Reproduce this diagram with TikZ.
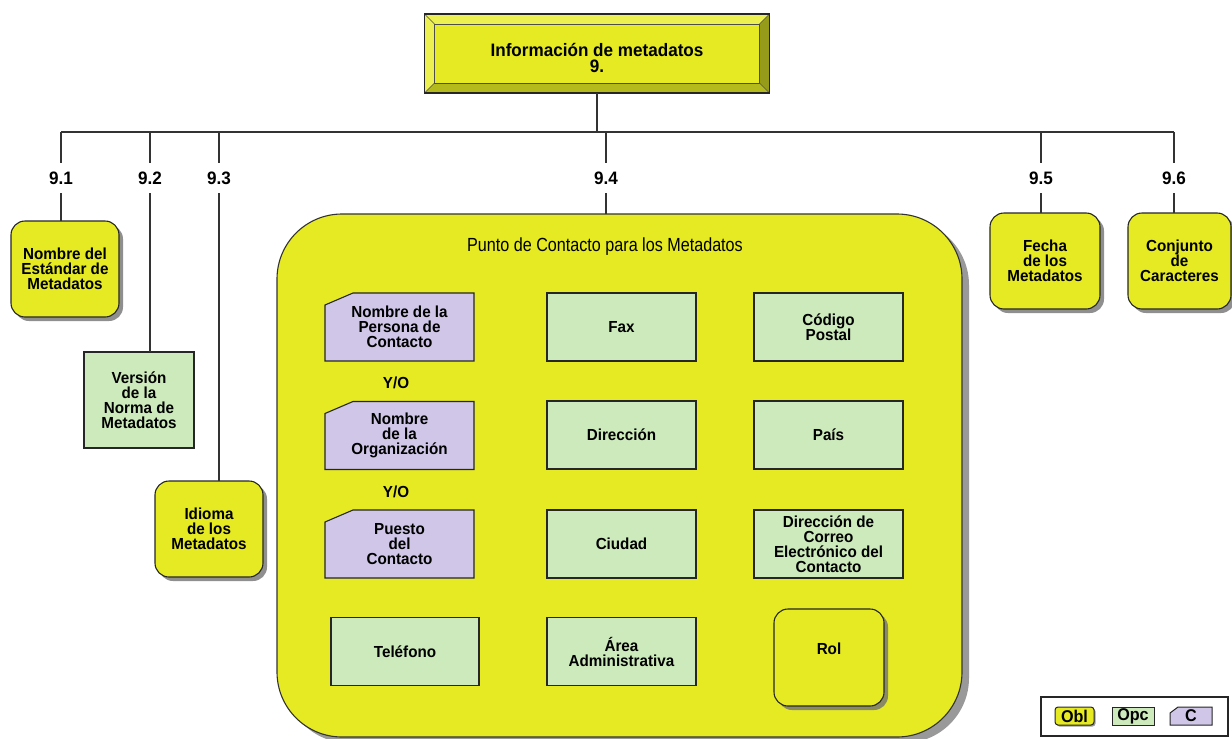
\documentclass[tikz,border=0pt]{standalone}
\usepackage{fontspec}
\setmainfont{Liberation Sans}[FakeStretch=0.95]
\newfontfamily\narrowfont{Liberation Sans}[FakeStretch=0.85]
\usetikzlibrary{shadows}
\pgfdeclarelayer{back}\pgfdeclarelayer{mid}
\pgfsetlayers{back,mid,main}
\definecolor{yel}{RGB}{229,234,35}
\definecolor{grn}{RGB}{204,234,187}
\definecolor{pur}{RGB}{207,198,232}
\definecolor{bevlight}{RGB}{236,240,80}
\definecolor{bevright}{RGB}{150,156,25}
\definecolor{bevbottom}{RGB}{180,186,28}
\newcommand\chamferbox[3]{%
  \filldraw[fill=pur, draw=black!85, line width=1.1pt]
    ([yshift=-#3]#1.north west) -- ([xshift=#2]#1.north west) -- (#1.north east)
    -- (#1.south east) -- (#1.south west) -- cycle;}
\tikzset{
  base/.style={inner sep=0pt, outer sep=0pt, align=center,
    font=\bfseries\fontsize{16}{15}\selectfont, line width=1.1pt},
  oblbox/.style={base, draw=black!85, fill=yel, rounded corners=14pt,
    drop shadow={shadow xshift=4pt, shadow yshift=-4pt, fill=black!55, opacity=.8},
    minimum width=108pt, minimum height=96pt},
  opcbox/.style={base, draw=black!85, fill=grn, minimum width=149pt, minimum height=68pt},
  cbox/.style={base, minimum width=149pt, minimum height=68pt},
  lbl/.style={base, font=\bfseries\fontsize{18}{18}\selectfont, minimum height=30pt},
  yo/.style={base},
  conn/.style={line width=1.3pt, draw=black!80}
}
\begin{document}
\begin{tikzpicture}[x=1pt, y=-1pt]
\useasboundingbox (0,0) rectangle (1232,739);

% top box
\node[base, minimum width=345pt, minimum height=79pt] (top) at (597,53.5) {};
\begin{pgfonlayer}{back}
  \fill[yel] (top.north west) rectangle (top.south east);
  \fill[bevlight] (top.north west) -- (top.north east) -- ([shift={(-10pt,-10pt)}]top.north east)
     -- ([shift={(10pt,-10pt)}]top.north west) -- cycle;
  \fill[bevlight] (top.north west) -- ([shift={(10pt,-10pt)}]top.north west)
     -- ([shift={(10pt,10pt)}]top.south west) -- (top.south west) -- cycle;
  \fill[bevright] (top.north east) -- ([shift={(-10pt,-10pt)}]top.north east)
     -- ([shift={(-10pt,10pt)}]top.south east) -- (top.south east) -- cycle;
  \fill[bevbottom] (top.south west) -- ([shift={(10pt,10pt)}]top.south west)
     -- ([shift={(-10pt,10pt)}]top.south east) -- (top.south east) -- cycle;
  \draw[line width=0.8pt, black!70] ([shift={(10pt,-10pt)}]top.north west) rectangle ([shift={(-10pt,10pt)}]top.south east);
  \draw[line width=0.6pt, black!70] (top.north west) -- ([shift={(10pt,-10pt)}]top.north west)
     (top.north east) -- ([shift={(-10pt,-10pt)}]top.north east)
     (top.south west) -- ([shift={(10pt,10pt)}]top.south west)
     (top.south east) -- ([shift={(-10pt,10pt)}]top.south east);
  \draw[line width=1.3pt, black!85] (top.north west) rectangle (top.south east);
\end{pgfonlayer}
\node[base, font=\bfseries\fontsize{18}{16}\selectfont] (toptext) at (597,57.5)
  {Información de metadatos\\9.};

% hub
\coordinate (h1) at (61,132);
\coordinate (h2) at (150,132);
\coordinate (h3) at (219,132);
\coordinate (h4) at (606,132);
\coordinate (h5) at (1041,132);
\coordinate (h6) at (1174,132);
\draw[conn] (top.south) -- (top.south |- h1);
\draw[conn] (h1) -- (h6);

% labels
\node[lbl] (l1) at (61,178) {9.1};
\node[lbl] (l2) at (150,178) {9.2};
\node[lbl] (l3) at (219,178) {9.3};
\node[lbl] (l4) at (606,178) {9.4};
\node[lbl] (l5) at (1041,178) {9.5};
\node[lbl] (l6) at (1174,178) {9.6};
\foreach \i in {1,...,6} { \draw[conn] (h\i) -- (l\i.north); }

% side boxes
\node[oblbox] (b1) at (65,269) {Nombre del\\Estándar de\\Metadatos};
\node[opcbox, minimum width=110pt, minimum height=96pt] (b2) at (139,400) {Versión\\de la\\Norma de\\Metadatos};
\node[oblbox] (b3) at (209,529) {Idioma\\de los\\Metadatos};
\node[oblbox, minimum width=110pt] (b5) at (1045,261) {Fecha\\de los\\Metadatos};
\node[oblbox, minimum width=103pt] (b6) at (1179.5,261) {Conjunto\\de\\Caracteres};

% big box
\begin{pgfonlayer}{back}
\node[base, draw=black!80, fill=yel, rounded corners=65pt,
  drop shadow={shadow xshift=7pt, shadow yshift=-6pt, fill=black!50, opacity=.8},
  minimum width=685pt, minimum height=523pt] (b4) at (619.5,475.5) {};
\end{pgfonlayer}
\node[base, font=\narrowfont\fontsize{19}{19}\selectfont] (t4) at (605,247) {Punto de Contacto para los Metadatos};

\draw[conn] (l1.south) -- (l1.south |- b1.north);
\draw[conn] (l2.south) -- (l2.south |- b2.north);
\draw[conn] (l3.south) -- (l3.south |- b3.north);
\draw[conn] (l4.south) -- (l4.south |- b4.north);
\draw[conn] (l5.south) -- (l5.south |- b5.north);
\draw[conn] (l6.south) -- (l6.south |- b6.north);

% inner column 1 (conditional)
\node[cbox] (c11) at (399.5,327) {Nombre de la\\Persona de\\Contacto};
\node[yo] (yo1) at (396,383) {Y/O};
\node[cbox] (c12) at (399.5,435.5) {Nombre\\de la\\Organización};
\node[yo] (yo2) at (396,492) {Y/O};
\node[cbox] (c13) at (399.5,544) {Puesto\\del\\Contacto};
\begin{pgfonlayer}{mid}
  \chamferbox{c11}{28pt}{12pt}
  \chamferbox{c12}{28pt}{12pt}
  \chamferbox{c13}{28pt}{12pt}
\end{pgfonlayer}

% column 2
\node[opcbox] (c21) at (621.5,327) {Fax};
\node[opcbox] (c22) at (621.5,435) {Dirección};
\node[opcbox] (c23) at (621.5,544) {Ciudad};
\node[opcbox] (c24) at (621.5,651.5) {Área\\Administrativa};
% column 3
\node[opcbox] (c31) at (828.5,327) {Código\\Postal};
\node[opcbox] (c32) at (828.5,435) {País};
\node[opcbox] (c33) at (828.5,544) {Dirección de\\Correo\\Electrónico del\\Contacto};
% bottom row
\node[opcbox, minimum width=148pt] (c41) at (405,651.5) {Teléfono};
\node[oblbox, minimum width=110pt, minimum height=97pt, text depth=18pt] (rol) at (829,657.5) {Rol};

% legend
\node[base, draw=black!85, minimum width=187pt, minimum height=39pt] (lg) at (1134.5,716.5) {};
\node[base, draw=black!85, fill=yel, rounded corners=3pt, line width=1pt,
  font=\bfseries\fontsize{17}{17}\selectfont,
  drop shadow={shadow xshift=1.5pt, shadow yshift=-1.5pt, fill=black!50, opacity=.8},
  minimum width=39pt, minimum height=18pt] (lobl) at (1074.5,716) {Obl};
\node[base, draw=black!85, fill=grn, line width=1pt, font=\bfseries\fontsize{17}{17}\selectfont,
  minimum width=42pt, minimum height=18pt] (lopc) at (1133,716) {Opc};
\node[base, font=\bfseries\fontsize{17}{17}\selectfont, minimum width=42pt, minimum height=18pt] (lc) at (1191,716) {C};
\begin{pgfonlayer}{mid}
  \filldraw[fill=pur, draw=black!85, line width=1pt]
    ([yshift=-6pt]lc.north west) -- ([xshift=8pt]lc.north west) -- (lc.north east)
    -- (lc.south east) -- (lc.south west) -- cycle;
\end{pgfonlayer}
\end{tikzpicture}
\end{document}
